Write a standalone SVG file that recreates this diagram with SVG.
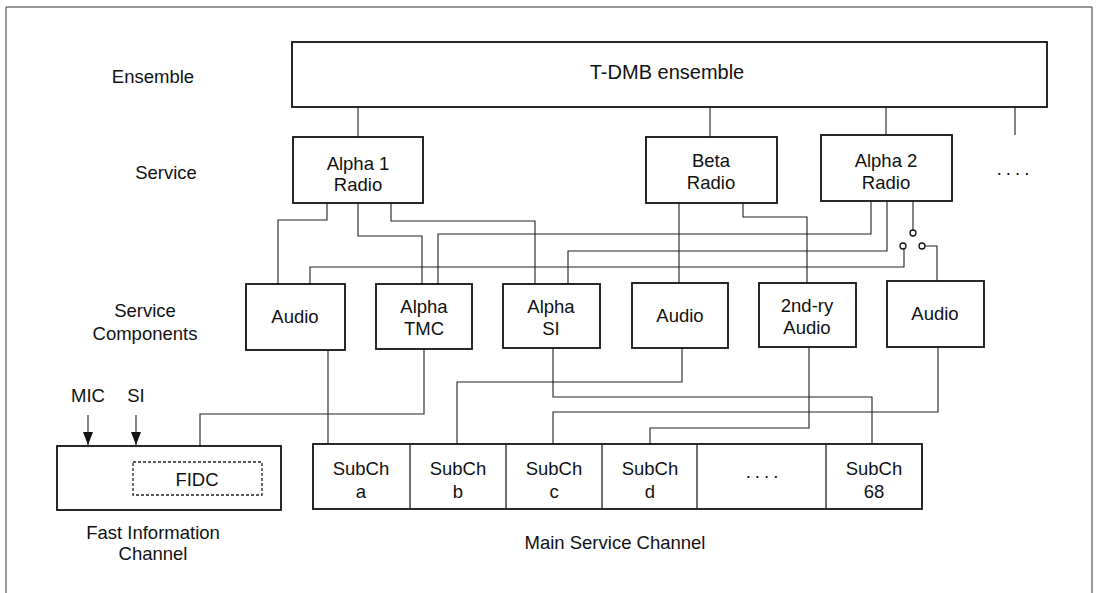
<svg xmlns="http://www.w3.org/2000/svg" width="1097" height="593" viewBox="0 0 1097 593">
<style>
text{font-family:"Liberation Sans",Arial,sans-serif;font-size:18.5px;fill:#111;text-anchor:middle}
.box{fill:#fff;stroke:#111;stroke-width:1.8}
.ln{fill:none;stroke:#222;stroke-width:1.1}
.dash{fill:none;stroke:#222;stroke-width:1.3;stroke-dasharray:3 2}
.sw{fill:#fff;stroke:#111;stroke-width:1.3}
</style>
<defs>
<marker id="arr" markerWidth="13" markerHeight="10" refX="13" refY="5" orient="auto" markerUnits="userSpaceOnUse" viewBox="0 0 13 10">
<path d="M0,0 L13,5 L0,10 Z" fill="#111"/>
</marker>
</defs>
<rect x="0" y="0" width="1097" height="593" fill="#fff"/>
<path d="M6,600 L6,7 L1092,7 L1092,600" fill="none" stroke="#333" stroke-width="1"/>

<g id="labels">
<text x="153" y="82.5">Ensemble</text>
<text x="166" y="178.5">Service</text>
<text x="145" y="316.5">Service</text>
<text x="145" y="339.5">Components</text>
<text x="88" y="401.5">MIC</text>
<text x="136" y="401.5">SI</text>
<text x="153" y="538.5">Fast Information</text>
<text x="153" y="559.5">Channel</text>
<text x="615" y="548.5">Main Service Channel</text>
<text x="1015" y="174.5" style="letter-spacing:4px">....</text>
</g>

<g id="connectors">
<path class="ln" d="M358,107 V137"/>
<path class="ln" d="M710,107 V137"/>
<path class="ln" d="M886,107 V135"/>
<path class="ln" d="M1015,107 V135"/>
<path class="ln" d="M327,203 V220 H278 V284"/>
<path class="ln" d="M358,203 V236 H422 V284"/>
<path class="ln" d="M391,203 V221 H535 V284"/>
<path class="ln" d="M871,201 V234 H438 V284"/>
<path class="ln" d="M887,201 V251 H568 V284"/>
<path class="ln" d="M904,249 V267 H310 V284"/>
<path class="ln" d="M913,201 V230"/>
<path class="ln" d="M925,246 H937 V281"/>
<path class="ln" d="M679,203 V283"/>
<path class="ln" d="M743,203 V217 H807 V283"/>
<path class="ln" d="M328,350 V445"/>
<path class="ln" d="M424,349 V414 H200 V446"/>
<path class="ln" d="M682,348 V382 H457 V445"/>
<path class="ln" d="M553,348 V397 H872 V443"/>
<path class="ln" d="M938,347 V412 H553 V445"/>
<path class="ln" d="M809,347 V428 H650 V444"/>
<path class="ln" d="M88,415 V445" marker-end="url(#arr)"/>
<path class="ln" d="M136,415 V445" marker-end="url(#arr)"/>
<circle class="sw" cx="913" cy="233" r="3"/>
<circle class="sw" cx="903" cy="246" r="3"/>
<circle class="sw" cx="922" cy="246" r="3"/>
</g>

<g id="ensemble">
<rect class="box" x="292" y="42" width="755" height="65"/>
<text x="667" y="79" style="font-size:20px">T-DMB ensemble</text>
</g>

<g id="alpha1-radio">
<rect class="box" x="293" y="137" width="130" height="66"/>
<text x="358" y="169.5">Alpha 1</text>
<text x="358" y="190.5">Radio</text>
</g>
<g id="beta-radio">
<rect class="box" x="646" y="137" width="131" height="66"/>
<text x="711" y="166.5">Beta</text>
<text x="711" y="188.5">Radio</text>
</g>
<g id="alpha2-radio">
<rect class="box" x="821" y="135" width="131" height="66"/>
<text x="886" y="166.5">Alpha 2</text>
<text x="886" y="188.5">Radio</text>
</g>

<g id="audio1">
<rect class="box" x="246" y="284" width="99" height="66"/>
<text x="295" y="322.5">Audio</text>
</g>
<g id="alpha-tmc">
<rect class="box" x="376" y="284" width="96" height="65"/>
<text x="424" y="312.5">Alpha</text>
<text x="424" y="334.5">TMC</text>
</g>
<g id="alpha-si">
<rect class="box" x="503" y="284" width="97" height="64"/>
<text x="551" y="312.5">Alpha</text>
<text x="551" y="334.5">SI</text>
</g>
<g id="audio2">
<rect class="box" x="632" y="283" width="96" height="65"/>
<text x="680" y="321.5">Audio</text>
</g>
<g id="secondary-audio">
<rect class="box" x="759" y="283" width="97" height="64"/>
<text x="807" y="311.5">2nd-ry</text>
<text x="807" y="333.5">Audio</text>
</g>
<g id="audio3">
<rect class="box" x="887" y="281" width="97" height="66"/>
<text x="935" y="319.5">Audio</text>
</g>

<g id="fic">
<rect class="box" x="57" y="446" width="224" height="64"/>
<rect class="dash" x="133" y="462" width="129" height="33"/>
<text x="197" y="485.5">FIDC</text>
</g>

<g id="msc">
<rect class="box" x="313" y="444" width="609" height="65"/>
<path class="ln" d="M410,444 V509 M506,444 V509 M602,444 V509 M697,444 V509 M826,444 V509" style="stroke-width:1.3"/>
<text x="361" y="474.5">SubCh</text><text x="361" y="497.5">a</text>
<text x="458" y="474.5">SubCh</text><text x="458" y="497.5">b</text>
<text x="554" y="474.5">SubCh</text><text x="554" y="497.5">c</text>
<text x="650" y="474.5">SubCh</text><text x="650" y="497.5">d</text>
<text x="764" y="478" style="letter-spacing:4px">....</text>
<text x="874" y="474.5">SubCh</text><text x="874" y="497.5">68</text>
</g>
</svg>
